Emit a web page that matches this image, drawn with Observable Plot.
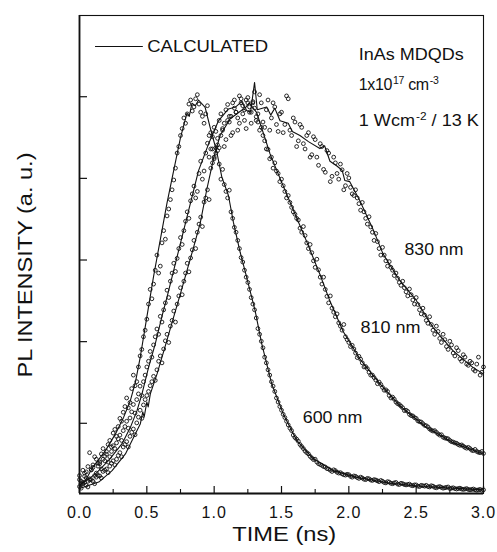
<!DOCTYPE html>
<html><head><meta charset="utf-8">
<script src="https://cdn.jsdelivr.net/npm/d3@7"></script>
<script src="https://cdn.jsdelivr.net/npm/@observablehq/plot@0.6"></script>
<style>
html,body{margin:0;padding:0;background:#fff;}
</style></head><body><div id="chart"></div>
<script>
// ---- data ----
const times = [
0.000,0.025,0.050,0.075,0.100,0.125,0.150,0.175,0.200,0.225,
0.250,0.275,0.300,0.325,0.350,0.375,0.400,0.425,0.450,0.475,
0.500,0.525,0.550,0.575,0.600,0.625,0.650,0.675,0.700,0.725,
0.750,0.775,0.800,0.825,0.850,0.875,0.900,0.925,0.950,0.975,
1.000,1.025,1.050,1.075,1.100,1.125,1.150,1.175,1.200,1.225,
1.250,1.275,1.300,1.325,1.350,1.375,1.400,1.425,1.450,1.475,
1.500,1.525,1.550,1.575,1.600,1.625,1.650,1.675,1.700,1.725,
1.750,1.775,1.800,1.825,1.850,1.875,1.900,1.925,1.950,1.975,
2.000,2.025,2.050,2.075,2.100,2.125,2.150,2.175,2.200,2.225,
2.250,2.275,2.300,2.325,2.350,2.375,2.400,2.425,2.450,2.475,
2.500,2.525,2.550,2.575,2.600,2.625,2.650,2.675,2.700,2.725,
2.750,2.775,2.800,2.825,2.850,2.875,2.900,2.925,2.950,2.975,
3.000];

const timesB = [
0.0125,0.0375,0.0625,0.0875,0.1125,0.1375,0.1625,0.1875,0.2125,0.2375,
0.2625,0.2875,0.3125,0.3375,0.3625,0.3875,0.4125,0.4375,0.4625,0.4875,
0.5125,0.5375,0.5625,0.5875,0.6125,0.6375,0.6625,0.6875,0.7125,0.7375,
0.7625,0.7875,0.8125,0.8375,0.8625,0.8875,0.9125,0.9375,0.9625,0.9875,
1.0125,1.0375,1.0625,1.0875,1.1125,1.1375,1.1625,1.1875,1.2125,1.2375,
1.2625,1.2875,1.3125,1.3375,1.3625,1.3875,1.4125,1.4375,1.4625,1.4875,
1.5125,1.5375,1.5625,1.5875,1.6125,1.6375,1.6625,1.6875,1.7125,1.7375,
1.7625,1.7875,1.8125,1.8375,1.8625,1.8875,1.9125,1.9375,1.9625,1.9875,
2.0125,2.0375,2.0625,2.0875,2.1125,2.1375,2.1625,2.1875,2.2125,2.2375,
2.2625,2.2875,2.3125,2.3375,2.3625,2.3875,2.4125,2.4375,2.4625,2.4875,
2.5125,2.5375,2.5625,2.5875,2.6125,2.6375,2.6625,2.6875,2.7125,2.7375,
2.7625,2.7875,2.8125,2.8375,2.8625,2.8875,2.9125,2.9375,2.9625,2.9875];

const pl600 = [
0.072,0.085,0.066,0.128,0.098,0.112,0.105,0.138,0.131,0.158,
0.176,0.168,0.212,0.227,0.262,0.251,0.318,0.302,0.365,0.412,
0.455,0.528,0.541,0.612,0.585,0.672,0.708,0.748,0.796,0.862,
0.905,0.948,0.958,0.992,0.975,1.005,0.962,0.935,0.978,0.912,
0.852,0.868,0.798,0.785,0.752,0.718,0.680,0.648,0.606,0.575,
0.545,0.508,0.478,0.432,0.401,0.362,0.331,0.302,0.278,0.252,
0.232,0.214,0.196,0.182,0.165,0.156,0.143,0.132,0.125,0.115,
0.112,0.101,0.097,0.093,0.088,0.082,0.084,0.078,0.076,0.073,
0.074,0.068,0.070,0.065,0.066,0.062,0.064,0.060,0.061,0.057,
0.058,0.054,0.056,0.052,0.055,0.050,0.052,0.049,0.051,0.047,
0.049,0.045,0.047,0.048,0.044,0.046,0.042,0.045,0.041,0.043,
0.040,0.042,0.039,0.041,0.038,0.040,0.037,0.039,0.036,0.038,
0.037];
const pl600b = [
0.058,0.078,0.094,0.086,0.118,0.102,0.125,0.119,0.148,0.142,
0.185,0.192,0.205,0.241,0.238,0.285,0.292,0.338,0.381,0.428,
0.492,0.505,0.575,0.568,0.642,0.651,0.725,0.772,0.825,0.878,
0.922,0.935,0.982,0.965,0.995,0.982,0.952,0.958,0.905,0.872,
0.875,0.835,0.822,0.768,0.771,0.702,0.668,0.628,0.595,0.558,
0.528,0.492,0.458,0.418,0.385,0.348,0.318,0.291,0.262,0.241,
0.222,0.205,0.188,0.171,0.161,0.148,0.138,0.128,0.119,0.111,
0.105,0.099,0.094,0.089,0.085,0.086,0.080,0.079,0.074,0.075,
0.070,0.071,0.067,0.068,0.063,0.065,0.061,0.062,0.059,0.060,
0.055,0.057,0.053,0.054,0.051,0.053,0.050,0.050,0.048,0.049,
0.046,0.048,0.046,0.045,0.047,0.043,0.044,0.043,0.042,0.044,
0.041,0.040,0.040,0.039,0.039,0.038,0.038,0.037,0.037,0.036];

const pl810 = [
0.062,0.055,0.081,0.064,0.092,0.078,0.101,0.112,0.124,0.118,
0.145,0.152,0.171,0.182,0.205,0.213,0.246,0.258,0.291,0.302,
0.338,0.376,0.392,0.431,0.462,0.478,0.526,0.548,0.592,0.604,
0.655,0.672,0.718,0.745,0.781,0.768,0.842,0.818,0.886,0.872,
0.925,0.898,0.958,0.935,0.981,0.952,0.992,0.948,0.995,0.968,
0.985,0.962,0.972,0.938,0.925,0.892,0.871,0.852,0.838,0.812,
0.798,0.768,0.758,0.729,0.712,0.698,0.668,0.660,0.628,0.618,
0.582,0.576,0.541,0.528,0.495,0.482,0.461,0.446,0.428,0.412,
0.398,0.391,0.372,0.364,0.348,0.339,0.325,0.318,0.306,0.301,
0.288,0.282,0.268,0.264,0.252,0.246,0.238,0.232,0.222,0.218,
0.212,0.204,0.199,0.194,0.186,0.181,0.178,0.171,0.166,0.163,
0.158,0.154,0.151,0.146,0.144,0.139,0.138,0.133,0.131,0.128,
0.126];
const pl810b = [
0.052,0.070,0.058,0.086,0.072,0.095,0.088,0.108,0.105,0.131,
0.138,0.162,0.158,0.192,0.188,0.228,0.225,0.272,0.268,0.318,
0.352,0.362,0.412,0.418,0.448,0.495,0.508,0.568,0.572,0.628,
0.638,0.695,0.702,0.762,0.752,0.812,0.798,0.862,0.852,0.902,
0.915,0.942,0.922,0.968,0.938,0.985,0.962,1.002,0.958,0.992,
0.975,0.988,0.951,0.918,0.905,0.872,0.848,0.825,0.818,0.792,
0.782,0.752,0.741,0.718,0.702,0.678,0.682,0.642,0.638,0.598,
0.602,0.558,0.558,0.511,0.512,0.472,0.468,0.438,0.442,0.405,
0.388,0.382,0.361,0.357,0.338,0.334,0.318,0.312,0.297,0.295,
0.281,0.278,0.262,0.259,0.248,0.242,0.231,0.229,0.219,0.214,
0.206,0.203,0.195,0.191,0.183,0.182,0.174,0.172,0.164,0.162,
0.155,0.152,0.148,0.147,0.141,0.141,0.134,0.136,0.129,0.131];

const pl830 = [
0.045,0.052,0.048,0.061,0.058,0.068,0.071,0.082,0.088,0.095,
0.108,0.112,0.128,0.142,0.155,0.168,0.186,0.201,0.232,0.245,
0.268,0.292,0.315,0.331,0.365,0.382,0.418,0.438,0.475,0.492,
0.532,0.548,0.592,0.605,0.648,0.668,0.705,0.742,0.772,0.825,
0.848,0.882,0.905,0.878,0.942,0.905,0.972,0.918,0.985,0.942,
0.998,0.935,1.012,0.958,0.985,0.925,0.992,0.948,0.975,0.915,
0.962,0.932,0.995,0.905,0.938,0.892,0.925,0.872,0.912,0.858,
0.895,0.832,0.878,0.815,0.862,0.805,0.838,0.798,0.821,0.782,
0.801,0.762,0.772,0.738,0.741,0.702,0.706,0.668,0.665,0.628,
0.631,0.598,0.596,0.575,0.568,0.545,0.548,0.522,0.529,0.502,
0.508,0.478,0.482,0.452,0.461,0.428,0.438,0.408,0.418,0.388,
0.401,0.372,0.385,0.358,0.368,0.345,0.352,0.332,0.345,0.318,
0.338];
const pl830b = [
0.041,0.055,0.044,0.062,0.052,0.072,0.066,0.085,0.079,0.102,
0.098,0.121,0.118,0.148,0.142,0.178,0.172,0.215,0.212,0.258,
0.278,0.302,0.305,0.352,0.348,0.402,0.398,0.452,0.448,0.512,
0.515,0.568,0.571,0.625,0.628,0.688,0.682,0.752,0.748,0.838,
0.862,0.875,0.918,0.895,0.952,0.912,0.962,0.935,0.978,0.922,
0.962,0.985,0.942,1.005,0.938,0.968,0.918,0.985,0.932,0.958,
0.912,1.002,0.918,0.948,0.878,0.932,0.885,0.905,0.852,0.902,
0.852,0.885,0.822,0.868,0.792,0.852,0.812,0.835,0.772,0.812,
0.778,0.758,0.752,0.722,0.718,0.688,0.681,0.648,0.645,0.612,
0.612,0.585,0.582,0.562,0.555,0.538,0.532,0.512,0.515,0.492,
0.491,0.468,0.465,0.445,0.442,0.418,0.425,0.398,0.405,0.381,
0.392,0.365,0.378,0.352,0.362,0.342,0.348,0.328,0.362,0.325];

// calculated curves: [time (ns), intensity]
const calc600 = [
[0.000,0.048],[0.044,0.060],[0.094,0.090],[0.193,0.133],[0.267,0.174],[0.328,0.215],
[0.378,0.256],[0.415,0.300],[0.450,0.360],[0.500,0.460],[0.550,0.560],[0.600,0.650],
[0.650,0.740],[0.700,0.820],[0.750,0.900],[0.798,0.960],[0.815,0.952],[0.835,0.984],
[0.860,0.978],[0.884,0.992],[0.933,0.974],[0.970,0.925],[1.020,0.864],[1.057,0.803],
[1.106,0.758],[1.143,0.692],[1.193,0.619],[1.230,0.572],[1.304,0.476],[1.353,0.395],
[1.427,0.297],[1.513,0.223],[1.613,0.158],[1.736,0.113],[1.884,0.084],[2.057,0.068],
[2.304,0.053],[2.550,0.045],[3.000,0.037]];

const calc810 = [
[0.000,0.048],[0.119,0.076],[0.217,0.109],[0.316,0.150],[0.378,0.190],[0.427,0.231],
[0.464,0.272],[0.513,0.337],[0.563,0.395],[0.617,0.468],[0.650,0.509],[0.699,0.574],
[0.761,0.656],[0.822,0.737],[0.884,0.819],[0.958,0.884],[1.032,0.941],[1.106,0.970],
[1.160,0.975],[1.205,0.988],[1.230,0.972],[1.260,0.985],[1.316,0.961],[1.363,0.913],
[1.415,0.860],[1.489,0.800],[1.585,0.725],[1.687,0.645],[1.785,0.565],[1.859,0.500],
[1.958,0.425],[2.081,0.358],[2.230,0.297],[2.378,0.243],[2.576,0.190],[2.773,0.153],
[3.000,0.124]];

const calc830 = [
[0.000,0.040],[0.143,0.056],[0.242,0.084],[0.341,0.125],[0.402,0.166],[0.452,0.199],
[0.470,0.228],[0.480,0.215],[0.500,0.252],[0.510,0.240],[0.526,0.272],[0.576,0.321],
[0.642,0.395],[0.699,0.460],[0.756,0.525],[0.847,0.631],[0.896,0.690],[0.946,0.774],
[0.995,0.848],[1.044,0.905],[1.119,0.946],[1.217,0.970],[1.270,0.962],[1.300,1.035],
[1.320,0.968],[1.390,0.975],[1.420,0.955],[1.450,0.972],[1.489,0.941],[1.550,0.935],
[1.580,0.915],[1.637,0.905],[1.700,0.890],[1.785,0.873],[1.820,0.880],[1.860,0.842],
[1.909,0.831],[1.950,0.820],[1.970,0.795],[2.007,0.792],[2.081,0.746],[2.180,0.675],
[2.254,0.615],[2.378,0.550],[2.501,0.501],[2.625,0.435],[2.773,0.378],[2.921,0.337],
[3.000,0.321]];

const xTicks = [0, 0.5, 1, 1.5, 2, 2.5, 3];
const xMinorTicks = [0.25, 0.75, 1.25, 1.75, 2.25, 2.75];
const yTicks = [0.2, 0.4, 0.6, 0.8, 1.0];
const seriesLabels = ["600 nm", "810 nm", "830 nm"];

// ---- layout ----
const W = 497, H = 552;
const mL = 79, mR = 14, mT = 15, mB = 59;
const yLo = 0.028, yHi = 1.199;
const pxY = (H - mT - mB) / (yHi - yLo);
const pxX = (W - mL - mR) / 3;

const dots = [];
times.forEach((t, i) => {
  dots.push({t, v: pl600[i]}, {t, v: pl810[i]}, {t, v: pl830[i]});
});
timesB.forEach((t, i) => {
  dots.push({t, v: pl600b[i]}, {t, v: pl810b[i]}, {t, v: pl830b[i]});
});

const ink = "#111";
const plot = Plot.plot({
  width: W, height: H,
  marginLeft: mL, marginRight: mR, marginTop: mT, marginBottom: mB,
  x: {domain: [0, 3], axis: null},
  y: {domain: [yLo, yHi], axis: null},
  style: {fontFamily: '"Liberation Sans", Arial, sans-serif', background: "white", color: ink, overflow: "visible"},
  marks: [
    Plot.dot(dots, {x: "t", y: "v", r: 1.9, stroke: ink, strokeWidth: 0.9, fill: "none"}),
    Plot.line(calc600, {x: d => d[0], y: d => d[1], stroke: ink, strokeWidth: 1.1}),
    Plot.line(calc810, {x: d => d[0], y: d => d[1], stroke: ink, strokeWidth: 1.1}),
    Plot.line(calc830, {x: d => d[0], y: d => d[1], stroke: ink, strokeWidth: 1.1}),
    Plot.frame({stroke: ink, strokeWidth: 1.1}),
    Plot.ruleX([0], {stroke: ink, strokeWidth: 1.8}),
    Plot.ruleY([yLo], {stroke: ink, strokeWidth: 1.8}),
    // inward ticks
    Plot.ruleX(xTicks, {x: d => d, y1: yLo, y2: yLo + 7 / pxY, stroke: ink, strokeWidth: 1.2}),
    Plot.ruleX(xMinorTicks, {x: d => d, y1: yLo, y2: yLo + 4 / pxY, stroke: ink, strokeWidth: 1.1}),
    Plot.ruleY(yTicks, {y: d => d, x1: 0, x2: 8 / pxX, stroke: ink, strokeWidth: 1.2}),
    // tick labels
    Plot.text(xTicks, {x: d => d, text: d => d.toFixed(1), frameAnchor: "bottom", dy: 24, lineAnchor: "bottom", fontSize: 16, fill: ink}),
    // axis titles
    Plot.text(["TIME (ns)"], {x: 1.134, frameAnchor: "bottom", dy: 47, textAnchor: "start", lineAnchor: "bottom", fontSize: 21, fill: ink}),
    Plot.text(["PL INTENSITY (a. u.)"], {frameAnchor: "left", dx: -48, dy: 123, rotate: -90, textAnchor: "start", lineAnchor: "bottom", fontSize: 21, fill: ink}),
    // legend
    Plot.ruleY([1.1231], {y: d => d, x1: 0.119, x2: 0.474, stroke: ink, strokeWidth: 1.1}),
    Plot.text(["CALCULATED"], {x: 0.503, y: 1.1108, textAnchor: "start", lineAnchor: "bottom", fontSize: 16, fill: ink}),
    // annotations
    Plot.text(["InAs MDQDs"], {x: 2.074, y: 1.0888, textAnchor: "start", lineAnchor: "bottom", fontSize: 16, fill: ink}),
    Plot.text(["1x10^17 cm^-3"], {x: 2.074, y: 1.0153, textAnchor: "start", lineAnchor: "bottom", fontSize: 16, fill: ink}),
    Plot.text(["1 Wcm^-2 / 13 K"], {x: 2.074, y: 0.9278, textAnchor: "start", lineAnchor: "bottom", fontSize: 16, fill: ink}),
    Plot.text([seriesLabels[2]], {x: 2.413, y: 0.6135, textAnchor: "start", lineAnchor: "bottom", fontSize: 17, fill: ink}),
    Plot.text([seriesLabels[1]], {x: 2.087, y: 0.4207, textAnchor: "start", lineAnchor: "bottom", fontSize: 17, fill: ink}),
    Plot.text([seriesLabels[0]], {x: 1.658, y: 0.2012, textAnchor: "start", lineAnchor: "bottom", fontSize: 17, fill: ink})
  ]
});

// text widths as in the original typesetting
const lengths = {
  "CALCULATED": [121, "spacingAndGlyphs"], "InAs MDQDs": [105, "spacingAndGlyphs"],
  "1x10^17 cm^-3": [80, "spacing"], "1 Wcm^-2 / 13 K": [120, "spacingAndGlyphs"],
  "830 nm": [59, "spacingAndGlyphs"], "810 nm": [60, "spacingAndGlyphs"], "600 nm": [59.5, "spacingAndGlyphs"],
  "TIME (ns)": [104, "spacingAndGlyphs"], "PL INTENSITY (a. u.)": [225, "spacingAndGlyphs"]
};
d3.select(plot).selectAll("text").each(function() {
  const s = this.textContent;
  if (lengths[s]) {
    this.setAttribute("textLength", lengths[s][0]);
    this.setAttribute("lengthAdjust", lengths[s][1]);
  } else if (/^\d\.\d$/.test(s)) {
    this.setAttribute("letter-spacing", "1");
  }
  if (s.includes("^")) {
    const parts = s.split(/(\^\S+)/).filter(p => p);
    this.textContent = "";
    let up = false;
    for (const p of parts) {
      const ts = d3.select(this).append("tspan");
      if (p.startsWith("^")) {
        ts.text(p.slice(1)).attr("font-size", 10.5).attr("dy", -6.5).attr("dx", 1);
        up = true;
      } else {
        ts.text(p);
        if (up) { ts.attr("dy", 6.5); up = false; }
      }
    }
  }
});

document.getElementById("chart").appendChild(plot);
</script>
</body></html>
